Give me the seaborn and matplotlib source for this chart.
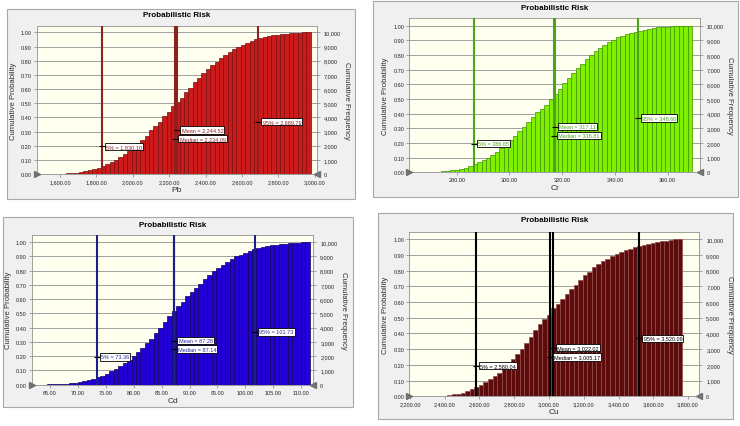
import numpy as np
import pandas as pd
import matplotlib
matplotlib.use("Agg")
import matplotlib.pyplot as plt
from matplotlib.patches import Rectangle
from matplotlib.ticker import FuncFormatter, FixedLocator
import seaborn as sns

# ---------------- data ----------------
title_text = "Probabilistic Risk"
marker_names = ["5%", "Mean", "Median", "95%"]
marker_label_y = [0.195, 0.31, 0.25, 0.37]
prob_ticks = [0.0, 0.1, 0.2, 0.3, 0.4, 0.5, 0.6, 0.7, 0.8, 0.9, 1.0]
freq_ticks = [0, 1000, 2000, 3000, 4000, 5000, 6000, 7000, 8000, 9000, 10000]

# Pb
pb_bin_start, pb_bin_width = 1585.0, 24.0
pb_cum = [0.002, 0.003, 0.005, 0.007, 0.010, 0.014, 0.019, 0.025, 0.032, 0.042, 0.055,
          0.068, 0.083, 0.10, 0.12, 0.14, 0.16, 0.19, 0.22, 0.24, 0.27,
          0.31, 0.34, 0.37, 0.41, 0.44, 0.48, 0.51, 0.54, 0.58, 0.61,
          0.65, 0.68, 0.71, 0.74, 0.77, 0.79, 0.82, 0.84, 0.86, 0.88,
          0.895, 0.91, 0.925, 0.94, 0.95, 0.96, 0.965, 0.972, 0.978, 0.983,
          0.987, 0.990, 0.993, 0.995, 0.997, 0.999, 1.0]
pb_markers = [1830.10, 2244.52, 2234.09, 2689.79]
pb_xticks = [1600, 1800, 2000, 2200, 2400, 2600, 2800, 3000]

# Cr
cr_bin_start, cr_bin_width = 267.3, 1.7
cr_cum = [0.001, 0.002, 0.003, 0.005, 0.007, 0.010, 0.014, 0.019, 0.025, 0.032,
          0.042, 0.055, 0.068, 0.083, 0.10, 0.12, 0.14, 0.165, 0.19, 0.22,
          0.25, 0.28, 0.31, 0.345, 0.38, 0.41, 0.43, 0.46, 0.50, 0.535,
          0.57, 0.61, 0.64, 0.675, 0.71, 0.74, 0.77, 0.80, 0.83, 0.85,
          0.87, 0.89, 0.905, 0.92, 0.93, 0.94, 0.95, 0.958, 0.966, 0.973,
          0.979, 0.984, 0.988, 0.991, 0.994, 0.996, 0.997, 0.998, 0.999, 1.0]
cr_markers = [286.65, 317.11, 316.81, 348.66]
cr_xticks = [280, 300, 320, 340, 360]

# Cd
cd_bin_start, cd_bin_width = 64.4, 0.8
cd_cum = [0.002, 0.003, 0.004, 0.006, 0.008, 0.011, 0.014, 0.018, 0.024, 0.031,
          0.040, 0.052, 0.064, 0.078, 0.093, 0.11, 0.13, 0.15, 0.17, 0.20,
          0.23, 0.26, 0.29, 0.32, 0.36, 0.40, 0.44, 0.48, 0.52, 0.55,
          0.58, 0.62, 0.65, 0.68, 0.71, 0.74, 0.77, 0.80, 0.82, 0.84,
          0.86, 0.88, 0.90, 0.91, 0.925, 0.94, 0.95, 0.96, 0.967, 0.973,
          0.979, 0.984, 0.988, 0.991, 0.994, 0.996, 0.998, 0.999, 1.0]
cd_markers = [73.36, 87.28, 87.14, 101.73]
cd_xticks = [65, 70, 75, 80, 85, 90, 95, 100, 105, 110]

# Cu
cu_bin_start, cu_bin_width = 2363.0, 26.0
cu_cum = [0.003, 0.005, 0.008, 0.012, 0.017, 0.024, 0.033, 0.045, 0.058, 0.073,
          0.09, 0.11, 0.13, 0.15, 0.18, 0.21, 0.24, 0.27, 0.30, 0.34,
          0.38, 0.42, 0.46, 0.49, 0.52, 0.56, 0.59, 0.62, 0.65, 0.68,
          0.71, 0.74, 0.77, 0.79, 0.82, 0.84, 0.86, 0.875, 0.89, 0.905,
          0.92, 0.93, 0.94, 0.948, 0.955, 0.962, 0.97, 0.976, 0.982, 0.987,
          0.991, 0.995, 0.998, 1.0]
cu_markers = [2580.04, 3022.02, 3005.17, 3520.09]
cu_xticks = [2200, 2400, 2600, 2800, 3000, 3200, 3400, 3600, 3800]

# ---------------- style / layout ----------------
sns.set_theme(style="white")
plt.rcParams["font.family"] = ["Liberation Sans", "DejaVu Sans"]

W, H = 740, 427
fig = plt.figure(figsize=(W / 100, H / 100), dpi=100)
fig.patch.set_facecolor("white")


def fxp(x):
    return x / W


def fyp(y):
    return 1 - y / H


panels = [
    dict(name="Pb", start=pb_bin_start, width=pb_bin_width, cum=pb_cum, markers=pb_markers,
         xticks=pb_xticks, frame=(7, 10, 355, 200), plot=(36.7, 26.7, 316.7, 175),
         xlim=(1472, 3010), ytop=1.047, title_y=15.5,
         fill="#CC1A1A", edge="#7A0E0E", line="#8E2020", text="#8E2020"),
    dict(name="Cr", start=cr_bin_start, width=cr_bin_width, cum=cr_cum, markers=cr_markers,
         xticks=cr_xticks, frame=(372.7, 1.7, 738, 198), plot=(409.3, 19.3, 700, 173.3),
         xlim=(262.0, 372.3), ytop=1.05, title_y=8.5,
         fill="#80F000", edge="#3C9400", line="#4CA41C", text="#4CA41C"),
    dict(name="Cd", start=cd_bin_start, width=cd_bin_width, cum=cd_cum, markers=cd_markers,
         xticks=cd_xticks, frame=(3.3, 218.3, 353.3, 408.3), plot=(31.7, 235.7, 313.3, 385.7),
         xlim=(61.7, 112.2), ytop=1.053, title_y=225.5,
         fill="#2300D6", edge="#10006A", line="#1E1E8A", text="#2A2AA0"),
    dict(name="Cu", start=cu_bin_start, width=cu_bin_width, cum=cu_cum, markers=cu_markers,
         xticks=cu_xticks, frame=(378.3, 214, 733.3, 420), plot=(409.3, 232.7, 699.3, 397.3),
         xlim=(2196, 3865), ytop=1.047, title_y=221,
         fill="#5E0B0B", edge="#8E4A4A", line="#000000", text="#000000"),
]

for p in panels:
    f0x, f0y, f1x, f1y = p["frame"]
    fig.add_artist(Rectangle((fxp(f0x), fyp(f1y)), (f1x - f0x) / W, (f1y - f0y) / H,
                             transform=fig.transFigure, fc="#F0F0F0", ec="#A8A8A8",
                             lw=0.8, zorder=-5))
    p0x, p0y, p1x, p1y = p["plot"]
    ax = fig.add_axes([fxp(p0x), fyp(p1y), (p1x - p0x) / W, (p1y - p0y) / H])
    ax.set_facecolor("#FFFFF0")

    n = len(p["cum"])
    centers = p["start"] + p["width"] * (np.arange(n) + 0.5)
    df = pd.DataFrame({"value": centers, "cum_prob": np.asarray(p["cum"], dtype=float)})
    sns.histplot(data=df, x="value", weights="cum_prob", binwidth=p["width"],
                 binrange=(p["start"], p["start"] + n * p["width"]), ax=ax,
                 color=p["fill"], edgecolor=p["edge"], linewidth=0.5, alpha=1.0, zorder=2)

    ax.set_xlim(*p["xlim"])
    ax.set_ylim(0, p["ytop"])
    ax.set_xlabel("")
    ax.set_ylabel("")
    ax.yaxis.set_major_locator(FixedLocator(prob_ticks))
    ax.yaxis.set_major_formatter(FuncFormatter(lambda v, _: f"{v:.2f}"))
    ax.xaxis.set_major_locator(FixedLocator(p["xticks"]))
    ax.xaxis.set_major_formatter(FuncFormatter(lambda v, _: f"{v:,.2f}"))
    ax.grid(axis="y", color="#A0A0A0", lw=0.7)
    ax.grid(axis="x", visible=False)
    ax.set_axisbelow(True)
    ax.tick_params(axis="both", which="major", labelsize=4, length=2, width=0.5,
                   color="#808080", pad=1.5, direction="out", left=True, bottom=True)
    for s in ax.spines.values():
        s.set_color("#909090")
        s.set_linewidth(0.6)

    # marker lines and labels
    for name, val, ly in zip(marker_names, p["markers"], marker_label_y):
        ax.axvline(val, color=p["line"], lw=1.5, zorder=4)
        ax.plot([val], [ly], marker="_", color="black", markersize=4, mew=0.8, zorder=5)
        ax.annotate(f"{name} = {val:,.2f}", xy=(val, ly), xytext=(3, 0),
                    textcoords="offset points", ha="left", va="center", fontsize=4,
                    color=p["text"], zorder=6,
                    bbox=dict(boxstyle="square,pad=0.2", fc="white", ec="black", lw=0.6))

    # slider triangles at y = 0
    ax.plot([p["xlim"][0]], [0], marker=">", color="#707070", markersize=4.5,
            clip_on=False, zorder=7)
    ax.plot([p["xlim"][1]], [0], marker="<", color="#707070", markersize=4.5,
            clip_on=False, zorder=7)

    # right axis: cumulative frequency
    ax2 = ax.twinx()
    ax2.set_ylim(0, p["ytop"] * 10000)
    ax2.yaxis.set_major_locator(FixedLocator(freq_ticks))
    ax2.yaxis.set_major_formatter(FuncFormatter(lambda v, _: f"{v:,.0f}"))
    ax2.tick_params(axis="y", labelsize=4, length=2, width=0.5, color="#808080",
                    pad=3, direction="out", right=True)
    ax2.grid(False)
    for s in ax2.spines.values():
        s.set_visible(False)

    # texts
    fig.text(fxp((p0x + p1x) / 2), fyp(p["title_y"]), title_text, ha="center",
             va="center", fontsize=5.8, fontweight="bold", color="black")
    fig.text(fxp((p0x + p1x) / 2), fyp(p1y + 15.5), p["name"], ha="center",
             va="center", fontsize=6, color="#303030")
    fig.text(fxp(p0x - 23.5), fyp((p0y + p1y) / 2), "Cumulative Probability",
             rotation=90, ha="center", va="center", fontsize=5.6, color="#303030")
    fig.text(fxp(p1x + 30), fyp((p0y + p1y) / 2), "Cumulative Frequency",
             rotation=270, ha="center", va="center", fontsize=5.6, color="#303030")

fig.savefig("out.png", dpi=100, facecolor="white")
